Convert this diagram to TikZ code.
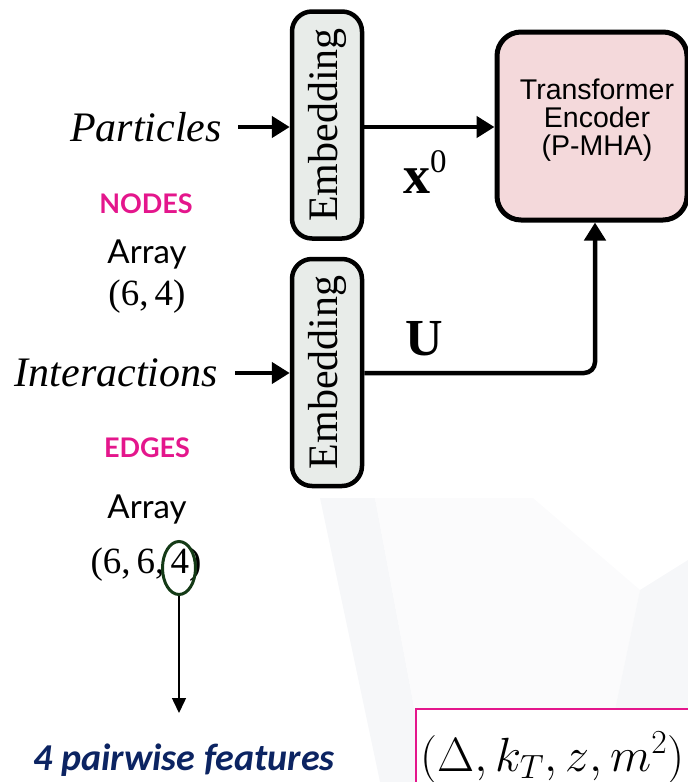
\RequirePackage{fix-cm}
\documentclass[tikz,border=0pt]{standalone}
\usepackage{fontspec}
\usetikzlibrary{arrows.meta,shapes.geometric}
\newfontfamily\tnr{Liberation Serif}
\newfontfamily\ars{Liberation Sans}
\newfontfamily\gill{Lato}
\newfontfamily\calib{Carlito}
\definecolor{embfill}{RGB}{232,236,233}
\definecolor{trfill}{RGB}{244,217,219}
\definecolor{mag}{RGB}{228,22,140}
\definecolor{navy}{RGB}{12,36,98}
\definecolor{ellg}{RGB}{20,58,22}
\definecolor{wm1}{RGB}{246,247,249}
\definecolor{wm2}{RGB}{251,251,252}
\begin{document}
\begin{tikzpicture}[x=1pt,y=-1pt,
  embbox/.style={draw, line width=4.5pt, rounded corners=20pt, fill=embfill, rotate=90,
    minimum width=227pt, minimum height=70pt, inner sep=0pt,
    font=\tnr\fontsize{42}{42}\selectfont},
  trbox/.style={draw, line width=5pt, rounded corners=24pt, fill=trfill,
    minimum width=190pt, minimum height=188pt},
  trtextstyle/.style={inner sep=0pt, align=center, font=\ars\fontsize{28.5}{28}\selectfont},
  inlabel/.style={inner sep=0pt, font=\tnr\itshape\fontsize{42}{42}\selectfont},
  bigarrow/.style={line width=4.5pt, -{Triangle[length=18pt,width=21pt]}},
  head/.style={inner sep=0pt, text=mag, font=\gill\bfseries\fontsize{27}{27}\selectfont},
  arr/.style={inner sep=0pt, font=\gill\fontsize{33}{33}\selectfont},
  tup/.style={inner sep=0pt, font=\tnr\fontsize{37}{37}\selectfont},
  thinarrow/.style={line width=1.5pt, -{Triangle[length=15pt,width=14pt]}}
]
\useasboundingbox (0,0) rectangle (688,782);
% faint watermark
\fill[wm1] (320,498) -- (375,498) -- (428,782) -- (380,782) -- cycle;
\fill[wm2] (375,498) -- (533,498) -- (640,590) -- (600,782) -- (428,782) -- cycle;
\fill[wm1] (640,590) -- (688,560) -- (688,782) -- (600,782) -- cycle;

% boxes (rotated: north = left side, south = right side)
\node[embbox] (emb1) at (327,125) {Embedding};
\node[embbox] (emb2) at (327,372.5) {Embedding};
\node[trbox] (tr) at (592,126) {};
\node[trtextstyle] (trtext) at (597,120) {Transformer\\Encoder\\(P-MHA)};

% inputs
\node[inlabel, anchor=east] (part) at (222,127) {Particles};
\node[inlabel, anchor=east] (inter) at (218,373) {Interactions};

\draw[bigarrow, shorten <=16pt] (part.east) -- (emb1.north |- part.east);
\draw[bigarrow, shorten <=17pt] (inter.east) -- (emb2.north |- inter.east);
\draw[bigarrow] (emb1.south |- part.east) -- (tr.west |- part.east);
\draw[bigarrow, rounded corners=11pt] (emb2.south |- inter.east) -- ([xshift=3pt]tr.south |- inter.east) -- ([xshift=3pt]tr.south);

% edge labels
\node[inner sep=0pt, anchor=base west, font=\tnr\bfseries\fontsize{54}{54}\selectfont] (x0) at (403,193)
  {x\raisebox{21pt}{\fontsize{33}{33}\selectfont\mdseries 0}};
\node[inner sep=0pt, anchor=base west, font=\tnr\bfseries\fontsize{52}{52}\selectfont] (U) at (405,355) {U};

% left annotations
\node[head, anchor=base] (nodes) at (146,213) {NODES};
\node[arr, anchor=base] (arr1) at (147,263) {Array};
\node[tup, anchor=base] (t1) at (147,305) {(6,\,4)};
\node[head, anchor=base] (edges) at (147,457) {EDGES};
\node[arr, anchor=base] (arr2) at (147,518) {Array};
\node[tup, anchor=base] (t2) at (146,573) {(6,\,6,\,4)};
\node[draw=ellg, line width=3pt, ellipse, minimum width=33pt, minimum height=53pt, inner sep=0pt] (ell) at (179,568) {};
\coordinate (tip) at (179,713);
\draw[thinarrow] (ell.south) -- (ell.south |- tip);
\node[inner sep=0pt, anchor=base, text=navy, font=\calib\bfseries\itshape\fontsize{38}{38}\selectfont] (feat) at (184,770) {4 pairwise features};

% formula box
\node[draw=mag, line width=2pt, fill=white, anchor=north west, minimum width=320pt, minimum height=110pt, inner sep=0pt] (fbox) at (415,708) {};
\node[inner sep=0pt, anchor=base west, font=\fontsize{48}{48}\selectfont] (form) at (420,771) {$(\Delta, k_T, z, m^2)$};
\end{tikzpicture}
\end{document}
